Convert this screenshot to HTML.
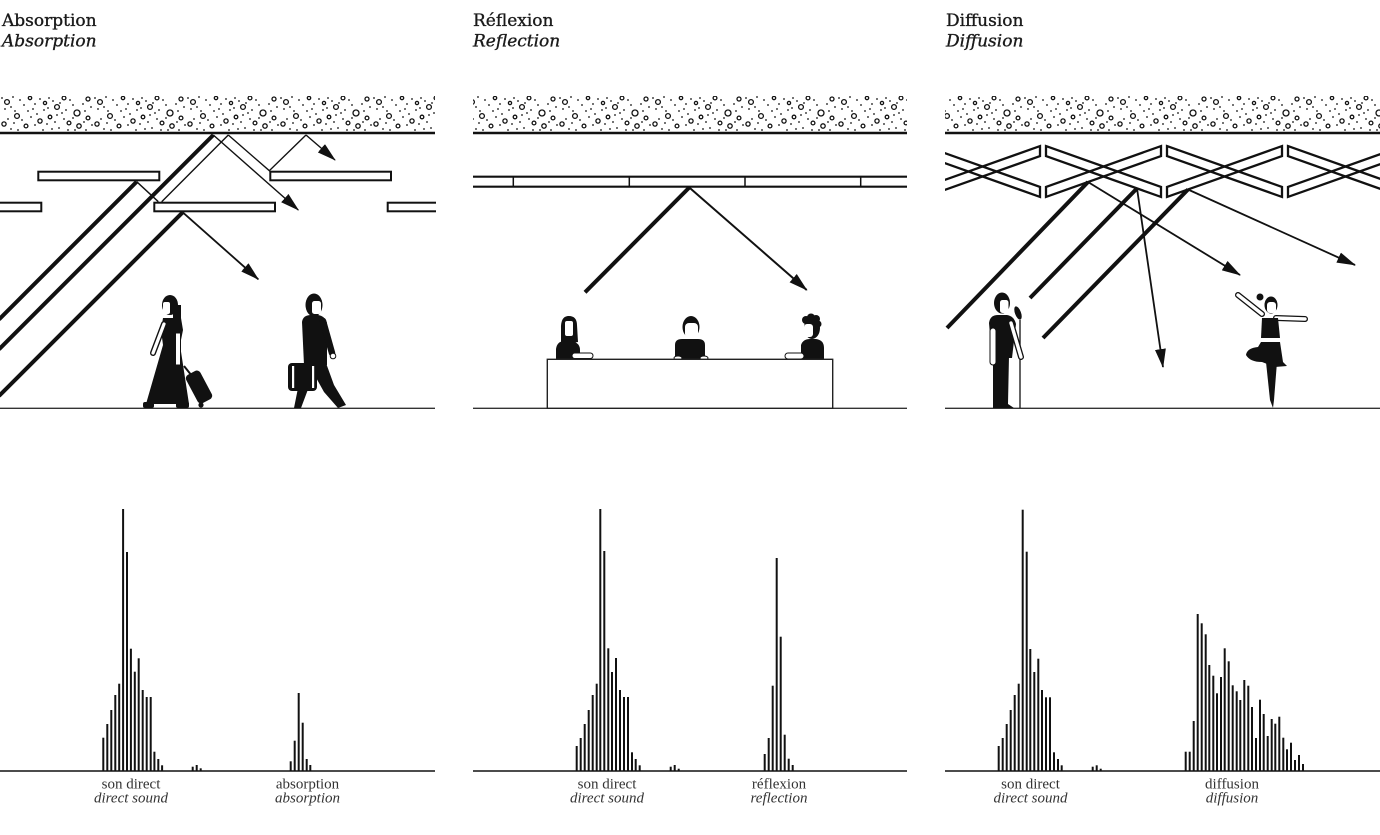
<!DOCTYPE html>
<html>
<head>
<meta charset="utf-8">
<style>
html,body{margin:0;padding:0;background:#fff;}
body{width:1380px;height:835px;overflow:hidden;position:relative;}
svg{position:absolute;left:0;top:0;}
.t{font-family:"DejaVu Serif","Liberation Serif",serif;font-size:17px;fill:#1a1a1a;stroke:#1a1a1a;stroke-width:0.35px;}
.ti{font-family:"DejaVu Serif","Liberation Serif",serif;font-size:17px;font-style:italic;fill:#1a1a1a;stroke:#1a1a1a;stroke-width:0.35px;}
.l{font-family:"Liberation Serif",serif;font-size:15px;fill:#333;}
.li{font-family:"Liberation Serif",serif;font-size:15px;font-style:italic;fill:#333;}
</style>
</head>
<body>
<svg width="1380" height="835" viewBox="0 0 1380 835" xmlns="http://www.w3.org/2000/svg">
<defs>
  <pattern id="tex" patternUnits="userSpaceOnUse" x="0" y="95" width="93" height="38">
    <g fill="none" stroke="#111" stroke-width="1.3">
      <circle cx="7" cy="7" r="2.4"/><circle cx="30" cy="3" r="1.7"/><circle cx="57" cy="12" r="2.4"/>
      <circle cx="64" cy="3" r="1.9"/><circle cx="77" cy="18" r="3"/><circle cx="88" cy="4" r="2"/>
      <circle cx="17" cy="21" r="2.4"/><circle cx="40" cy="26" r="2.1"/><circle cx="4" cy="29" r="2.1"/>
      <circle cx="26" cy="31" r="1.9"/><circle cx="79" cy="31" r="2.2"/><circle cx="50" cy="22" r="1.8"/>
      <circle cx="69" cy="28" r="1.9"/><circle cx="88" cy="23" r="1.9"/><circle cx="45" cy="8" r="1.6"/>
    </g>
    <g fill="#111">
      <circle cx="2" cy="3" r=".9"/><circle cx="13" cy="2" r=".9"/><circle cx="20" cy="5" r=".9"/><circle cx="24" cy="10" r=".9"/>
      <circle cx="35" cy="9" r=".9"/><circle cx="40" cy="4" r=".9"/><circle cx="49" cy="3" r=".9"/><circle cx="53" cy="6" r=".9"/>
      <circle cx="60" cy="8" r=".9"/><circle cx="70" cy="5" r=".9"/><circle cx="73" cy="10" r=".9"/><circle cx="83" cy="9" r=".9"/>
      <circle cx="91" cy="12" r=".9"/><circle cx="5" cy="14" r=".9"/><circle cx="11" cy="12" r=".9"/><circle cx="15" cy="16" r=".9"/>
      <circle cx="28" cy="16" r=".9"/><circle cx="33" cy="14" r=".9"/><circle cx="37" cy="19" r=".9"/><circle cx="44" cy="15" r=".9"/>
      <circle cx="48" cy="13" r=".9"/><circle cx="62" cy="18" r=".9"/><circle cx="66" cy="15" r=".9"/><circle cx="85" cy="16" r=".9"/>
      <circle cx="8" cy="24" r=".9"/><circle cx="22" cy="25" r=".9"/><circle cx="31" cy="22" r=".9"/><circle cx="35" cy="30" r=".9"/>
      <circle cx="47" cy="29" r=".9"/><circle cx="55" cy="27" r=".9"/><circle cx="59" cy="33" r=".9"/><circle cx="64" cy="24" r=".9"/>
      <circle cx="73" cy="23" r=".9"/><circle cx="84" cy="27" r=".9"/><circle cx="92" cy="30" r=".9"/><circle cx="11" cy="34" r=".9"/>
      <circle cx="18" cy="35" r=".9"/><circle cx="43" cy="35" r=".9"/><circle cx="52" cy="34" r=".9"/><circle cx="68" cy="35" r=".9"/>
      <circle cx="75" cy="35" r=".9"/><circle cx="86" cy="35" r=".9"/><circle cx="14" cy="28" r=".9"/><circle cx="57" cy="20" r=".9"/>
    </g>
  </pattern>
  <marker id="ah" viewBox="0 0 19 11" refX="18" refY="5.5" markerWidth="19" markerHeight="11" orient="auto" markerUnits="userSpaceOnUse">
    <path d="M0,0 L19,5.5 L0,11 Z" fill="#111"/>
  </marker>
  <clipPath id="clipR"><rect x="945" y="0" width="435" height="835"/></clipPath>
  <clipPath id="clipL"><rect x="0" y="0" width="436" height="835"/></clipPath>
</defs>

<!-- Titles -->
<text class="t" x="2" y="26">Absorption</text>
<text class="ti" x="2" y="46.5">Absorption</text>
<text class="t" x="473" y="26">Réflexion</text>
<text class="ti" x="473" y="46.5">Reflection</text>
<text class="t" x="946" y="26">Diffusion</text>
<text class="ti" x="946" y="46.5">Diffusion</text>

<!-- Ceiling textures -->
<rect x="0" y="96" width="435" height="35" fill="url(#tex)"/>
<rect x="473" y="96" width="434" height="35" fill="url(#tex)"/>
<rect x="945" y="96" width="435" height="35" fill="url(#tex)"/>
<g stroke="#111" stroke-width="2.5">
  <line x1="0" y1="133" x2="435" y2="133"/>
  <line x1="473" y1="133" x2="907" y2="133"/>
  <line x1="945" y1="133" x2="1380" y2="133"/>
</g>

<!-- Ground lines -->
<g stroke="#333" stroke-width="1.3">
  <line x1="0" y1="408.3" x2="435" y2="408.3"/>
  <line x1="473" y1="408.3" x2="907" y2="408.3"/>
  <line x1="945" y1="408.3" x2="1380" y2="408.3"/>
</g>

<!-- ================= LEFT PANEL ================= -->
<g clip-path="url(#clipL)">
  <g stroke="#111" stroke-width="4" stroke-linecap="butt">
    <line x1="136.7" y1="181.7" x2="-1" y2="319.4"/>
    <line x1="213.3" y1="135" x2="-1" y2="349.3"/>
    <line x1="182.7" y1="212.3" x2="-1" y2="396"/>
  </g>
  <g stroke="#111" stroke-width="1.4" fill="none">
    <line x1="228.3" y1="135" x2="161.7" y2="201.7"/>
    <line x1="136.7" y1="181.7" x2="158.3" y2="201.7"/>
    <polyline points="228.3,135 269.3,170.7 306,135"/>
    <line x1="306" y1="135" x2="335" y2="160" marker-end="url(#ah)"/>
    <line x1="213.3" y1="135" x2="298.3" y2="210" marker-end="url(#ah)"/>
  </g>
  <line x1="182.7" y1="212.3" x2="258.3" y2="279.3" stroke="#111" stroke-width="1.8" marker-end="url(#ah)"/>
  <g fill="#fff" stroke="#111" stroke-width="2">
    <rect x="38.3" y="171.7" width="121" height="8.6"/>
    <rect x="270.3" y="171.7" width="120.7" height="8.6"/>
    <rect x="-3" y="202.7" width="44.3" height="8.6"/>
    <rect x="154.3" y="202.7" width="120.7" height="8.6"/>
    <rect x="387.7" y="202.7" width="50" height="8.6"/>
  </g>
</g>

<!-- woman with suitcase -->
<g fill="#111">
  <line x1="184" y1="366" x2="192" y2="376" stroke="#111" stroke-width="2"/>
  <rect x="191" y="371" width="16" height="32" rx="4" transform="rotate(-28 199 387)"/>
  <circle cx="201" cy="405" r="2.6"/>
  <ellipse cx="170" cy="305" rx="8" ry="10"/>
  <rect x="173" y="305" width="8" height="18"/>
  <rect x="163" y="302" width="7" height="12" rx="2" fill="#fff"/>
  <path d="M163,318 L181,318 L183,330 L180,345 L189,404 L146,404 L163,345 L161,330 Z"/>
  <rect x="143" y="402" width="11" height="6" rx="2"/>
  <rect x="176" y="402" width="13" height="6" rx="2"/>
  <line x1="164" y1="324" x2="153" y2="353" stroke="#111" stroke-width="6" stroke-linecap="round"/>
  <line x1="164" y1="324" x2="153" y2="353" stroke="#fff" stroke-width="3.2" stroke-linecap="round"/>
  <rect x="175.5" y="333" width="5" height="32" fill="#fff" stroke="#111" stroke-width="1"/>
</g>

<!-- man with briefcase -->
<g fill="#111">
  <ellipse cx="314" cy="305" rx="8.5" ry="11.5"/>
  <rect x="312" y="301" width="9" height="13" rx="2.5" fill="#fff"/>
  <path d="M302,322 Q303,315 311,315 L318,315 Q325,316 327,323 L327,365 L304,365 Z"/>
  <line x1="323" y1="321" x2="332" y2="353" stroke="#111" stroke-width="6.5" stroke-linecap="round"/>
  <circle cx="333" cy="356" r="2.8" fill="#fff" stroke="#111" stroke-width="1"/>
  <path d="M305,363 L326,363 L334,385 L346,405 L338,408 L324,392 L314,374 L307,392 L301,408 L294,408 L298,388 Z"/>
  <rect x="288" y="363" width="29" height="28" rx="4"/>
  <rect x="292" y="366" width="2.2" height="22" fill="#fff"/>
  <rect x="312" y="366" width="2.2" height="22" fill="#fff"/>
</g>

<!-- ================= MIDDLE PANEL ================= -->
<g stroke="#111" stroke-width="2.2">
  <line x1="473" y1="176.7" x2="907" y2="176.7"/>
  <line x1="473" y1="186.7" x2="907" y2="186.7"/>
</g>
<g stroke="#111" stroke-width="1.5">
  <line x1="513.3" y1="176.7" x2="513.3" y2="186.7"/>
  <line x1="629.3" y1="176.7" x2="629.3" y2="186.7"/>
  <line x1="745" y1="176.7" x2="745" y2="186.7"/>
  <line x1="860.7" y1="176.7" x2="860.7" y2="186.7"/>
</g>
<line x1="689.3" y1="187.5" x2="585" y2="292.3" stroke="#111" stroke-width="4"/>
<line x1="689.3" y1="187.5" x2="806.7" y2="290" stroke="#111" stroke-width="2" marker-end="url(#ah)"/>

<g fill="#111">
  <path d="M561,328 C561,319 564,316 569,316 C574,316 577,319 577,325 L578,342 L561,345 Z"/>
  <rect x="565" y="321" width="8" height="15" rx="2" fill="#fff"/>
  <path d="M556,359 L556,349 Q557,341 565,341 L572,341 Q580,343 580,350 L580,359 Z"/>
  <rect x="572" y="353" width="21" height="5.5" rx="2.7" fill="#fff" stroke="#111" stroke-width="1"/>

  <ellipse cx="691" cy="327" rx="8.5" ry="11"/>
  <rect x="685" y="323" width="13" height="15" rx="4" fill="#fff"/>
  <path d="M675,359 L675,345 Q675,339 682,339 L698,339 Q705,339 705,345 L705,359 Z"/>
  <ellipse cx="678" cy="358" rx="4" ry="2" fill="#fff" stroke="#111" stroke-width="1"/>
  <ellipse cx="704" cy="358" rx="4" ry="2" fill="#fff" stroke="#111" stroke-width="1"/>

  <circle cx="806" cy="320" r="4"/><circle cx="811" cy="317.5" r="4"/><circle cx="816" cy="319" r="4"/><circle cx="818" cy="324" r="3.5"/>
  <ellipse cx="812" cy="328" rx="8" ry="11"/>
  <rect x="804" y="324" width="9" height="13" rx="3" fill="#fff"/>
  <path d="M801,359 L801,345 Q803,339 810,339 L816,339 Q824,340 824,348 L824,359 Z"/>
  <rect x="785" y="353" width="19" height="6" rx="3" fill="#fff" stroke="#111" stroke-width="1"/>
</g>
<rect x="547.3" y="359.3" width="285.4" height="49" fill="#fff" stroke="#222" stroke-width="1.4"/>

<!-- ================= RIGHT PANEL ================= -->
<g clip-path="url(#clipR)">
  <g fill="none" stroke="#111" stroke-width="2.3">
    <polygon points="925,146.07 1040,186.93 1040,196.93 925,156.07"/>
    <polygon points="1046,186.93 1161,146.07 1161,156.07 1046,196.93"/>
    <polygon points="1167,146.07 1282,186.93 1282,196.93 1167,156.07"/>
    <polygon points="1288,186.93 1403,146.07 1403,156.07 1288,196.93"/>
    <polygon points="925,186.93 1040,146.07 1040,156.07 925,196.93"/>
    <polygon points="1046,146.07 1161,186.93 1161,196.93 1046,156.07"/>
    <polygon points="1167,186.93 1282,146.07 1282,156.07 1167,196.93"/>
    <polygon points="1288,146.07 1403,186.93 1403,196.93 1288,156.07"/>
  </g>
  <g stroke="#111" stroke-width="4">
    <line x1="1088" y1="182" x2="947" y2="328"/>
    <line x1="1137" y1="188.4" x2="1030" y2="298"/>
    <line x1="1188" y1="189.5" x2="1043" y2="338"/>
  </g>
  <g stroke="#111" stroke-width="1.8">
    <line x1="1088" y1="182" x2="1240" y2="275" marker-end="url(#ah)"/>
    <line x1="1188" y1="189.5" x2="1355" y2="265" marker-end="url(#ah)"/>
    <line x1="1137" y1="188.4" x2="1163" y2="367" marker-end="url(#ah)"/>
  </g>
</g>

<!-- singer -->
<g fill="#111">
  <line x1="1020" y1="320" x2="1020" y2="408" stroke="#111" stroke-width="1.3"/>
  <ellipse cx="1018" cy="313" rx="3" ry="7" transform="rotate(-20 1018 313)"/>
  <ellipse cx="1002" cy="303" rx="8" ry="10.5"/>
  <rect x="1000" y="300" width="8.5" height="13" rx="2.5" fill="#fff"/>
  <path d="M989,323 Q990,315 998,315 L1007,315 Q1014,316 1016,324 L1012,358 L992,358 Z"/>
  <path d="M993,356 L1009,356 L1008,404 L1014,408 L993,408 Z"/>
  <rect x="990" y="328" width="6" height="37" rx="3" fill="#fff" stroke="#111" stroke-width="1"/>
  <line x1="1011" y1="323" x2="1021" y2="357" stroke="#111" stroke-width="6" stroke-linecap="round"/>
  <line x1="1011" y1="323" x2="1021" y2="357" stroke="#fff" stroke-width="3.4" stroke-linecap="round"/>
</g>

<!-- dancer -->
<g fill="#111">
  <line x1="1262" y1="314" x2="1238" y2="295" stroke="#111" stroke-width="6" stroke-linecap="round"/>
  <line x1="1262" y1="314" x2="1238" y2="295" stroke="#fff" stroke-width="3.4" stroke-linecap="round"/>
  <line x1="1276" y1="318" x2="1305" y2="319" stroke="#111" stroke-width="6" stroke-linecap="round"/>
  <line x1="1276" y1="318" x2="1305" y2="319" stroke="#fff" stroke-width="3.4" stroke-linecap="round"/>
  <circle cx="1260" cy="297" r="3.5"/>
  <ellipse cx="1271" cy="305" rx="6.5" ry="8.5"/>
  <rect x="1267" y="302" width="9" height="11" rx="3" fill="#fff"/>
  <path d="M1262,318 L1278,318 L1280,338 L1261,338 Z"/>
  <path d="M1261,342 L1280,342 L1283,362 L1287,366 L1275,367 L1262,362 Q1250,362 1246,355 Q1247,348 1258,347 Z"/>
  <path d="M1266,362 L1277,362 L1274,400 L1273,408 L1270,400 Z"/>
</g>

<!-- ================= HISTOGRAMS ================= -->
<g stroke="#111" stroke-width="1.4">
  <line x1="0" y1="771" x2="435" y2="771"/>
  <line x1="473" y1="771" x2="907" y2="771"/>
  <line x1="945" y1="771" x2="1380" y2="771"/>
</g>
<g fill="#111">
  <rect x="102.3" y="737.7" width="2" height="33.3"/><rect x="106.3" y="724" width="2" height="47"/>
  <rect x="110.3" y="710" width="2" height="61"/><rect x="114.3" y="695" width="2" height="76"/>
  <rect x="118.2" y="683.7" width="2" height="87.3"/><rect x="122.1" y="509" width="2" height="262"/>
  <rect x="126" y="552" width="2" height="219"/><rect x="129.9" y="648.7" width="2" height="122.3"/>
  <rect x="133.8" y="671.7" width="2" height="99.3"/><rect x="137.7" y="658.3" width="2" height="112.7"/>
  <rect x="141.7" y="690" width="2" height="81"/><rect x="145.7" y="697" width="2" height="74"/>
  <rect x="149.7" y="697" width="2" height="74"/><rect x="153.4" y="751.7" width="2" height="19.3"/>
  <rect x="157.3" y="759" width="2" height="12"/><rect x="161.1" y="765.3" width="2" height="5.7"/>
  <rect x="191.7" y="766.7" width="2" height="4.3"/><rect x="195.7" y="765" width="2" height="6"/><rect x="199.7" y="768.3" width="2" height="2.7"/>
  <rect x="289.7" y="761.3" width="2" height="9.7"/><rect x="293.7" y="740.7" width="2" height="30.3"/>
  <rect x="297.7" y="693" width="2" height="78"/><rect x="301.7" y="722.7" width="2" height="48.3"/>
  <rect x="305.7" y="759" width="2" height="12"/><rect x="309.3" y="765" width="2" height="6"/>

  <rect x="575.7" y="746" width="2" height="25"/><rect x="579.7" y="738" width="2" height="33"/>
  <rect x="583.7" y="724" width="2" height="47"/><rect x="587.7" y="710" width="2" height="61"/>
  <rect x="591.7" y="695" width="2" height="76"/><rect x="595.7" y="683.7" width="2" height="87.3"/>
  <rect x="599.3" y="509" width="2" height="262"/><rect x="603.3" y="551" width="2" height="220"/>
  <rect x="607.3" y="648.3" width="2" height="122.7"/><rect x="611" y="672" width="2" height="99"/>
  <rect x="615" y="658" width="2" height="113"/><rect x="619" y="690" width="2" height="81"/>
  <rect x="623" y="697" width="2" height="74"/><rect x="627" y="697" width="2" height="74"/>
  <rect x="631" y="752.3" width="2" height="18.7"/><rect x="634.7" y="759" width="2" height="12"/>
  <rect x="638.7" y="765.3" width="2" height="5.7"/>
  <rect x="669.7" y="766.7" width="2" height="4.3"/><rect x="673.7" y="765" width="2" height="6"/><rect x="677.7" y="768.7" width="2" height="2.3"/>
  <rect x="763.7" y="754" width="2" height="17"/><rect x="767.7" y="738" width="2" height="33"/>
  <rect x="771.7" y="685.7" width="2" height="85.3"/><rect x="775.7" y="558" width="2" height="213"/>
  <rect x="779.7" y="636.7" width="2" height="134.3"/><rect x="783.7" y="734.7" width="2" height="36.3"/>
  <rect x="787.7" y="758.7" width="2" height="12.3"/><rect x="791.7" y="765" width="2" height="6"/>

  <rect x="997.7" y="746" width="2" height="25"/><rect x="1001.7" y="738" width="2" height="33"/>
  <rect x="1005.7" y="724" width="2" height="47"/><rect x="1009.7" y="710" width="2" height="61"/>
  <rect x="1013.7" y="695" width="2" height="76"/><rect x="1017.7" y="683.7" width="2" height="87.3"/>
  <rect x="1021.7" y="509.7" width="2" height="261.3"/><rect x="1025.7" y="551.7" width="2" height="219.3"/>
  <rect x="1029.3" y="649" width="2" height="122"/><rect x="1033.3" y="672" width="2" height="99"/>
  <rect x="1037.3" y="658.7" width="2" height="112.3"/><rect x="1041" y="690" width="2" height="81"/>
  <rect x="1045" y="697.3" width="2" height="73.7"/><rect x="1049" y="697.3" width="2" height="73.7"/>
  <rect x="1053" y="752.3" width="2" height="18.7"/><rect x="1057" y="759" width="2" height="12"/>
  <rect x="1060.7" y="765.3" width="2" height="5.7"/>
  <rect x="1091.7" y="766.7" width="2" height="4.3"/><rect x="1095.7" y="765.3" width="2" height="5.7"/><rect x="1099.7" y="768.7" width="2" height="2.3"/>
  <rect x="1184.7" y="751.7" width="2" height="19.3"/><rect x="1188.7" y="751.7" width="2" height="19.3"/>
  <rect x="1192.7" y="721" width="2" height="50"/><rect x="1196.7" y="614" width="2" height="157"/>
  <rect x="1200.7" y="623.3" width="2" height="147.7"/><rect x="1204.7" y="634.3" width="2" height="136.7"/>
  <rect x="1208.3" y="665" width="2" height="106"/><rect x="1212.3" y="675.7" width="2" height="95.3"/>
  <rect x="1216" y="693.3" width="2" height="77.7"/><rect x="1220" y="677" width="2" height="94"/>
  <rect x="1223.7" y="648.3" width="2" height="122.7"/><rect x="1227.7" y="661.3" width="2" height="109.7"/>
  <rect x="1231.7" y="685.3" width="2" height="85.7"/><rect x="1235.7" y="691.3" width="2" height="79.7"/>
  <rect x="1239.3" y="700" width="2" height="71"/><rect x="1243.3" y="680" width="2" height="91"/>
  <rect x="1247.3" y="685.7" width="2" height="85.3"/><rect x="1251" y="707" width="2" height="64"/>
  <rect x="1255" y="738" width="2" height="33"/><rect x="1259" y="699.7" width="2" height="71.3"/>
  <rect x="1262.7" y="714" width="2" height="57"/><rect x="1266.7" y="736" width="2" height="35"/>
  <rect x="1270.7" y="719" width="2" height="52"/><rect x="1274.3" y="723.7" width="2" height="47.3"/>
  <rect x="1278.3" y="716.7" width="2" height="54.3"/><rect x="1282.3" y="737.7" width="2" height="33.3"/>
  <rect x="1286" y="749.3" width="2" height="21.7"/><rect x="1290" y="742.7" width="2" height="28.3"/>
  <rect x="1294" y="760" width="2" height="11"/><rect x="1298" y="755" width="2" height="16"/>
  <rect x="1302" y="764" width="2" height="7"/>
</g>

<g text-anchor="middle">
  <text class="l" x="131" y="788.5">son direct</text>
  <text class="li" x="131" y="802.5">direct sound</text>
  <text class="l" x="307.5" y="788.5">absorption</text>
  <text class="li" x="307.5" y="802.5">absorption</text>
  <text class="l" x="607" y="788.5">son direct</text>
  <text class="li" x="607" y="802.5">direct sound</text>
  <text class="l" x="779" y="788.5">réflexion</text>
  <text class="li" x="779" y="802.5">reflection</text>
  <text class="l" x="1030.5" y="788.5">son direct</text>
  <text class="li" x="1030.5" y="802.5">direct sound</text>
  <text class="l" x="1232" y="788.5">diffusion</text>
  <text class="li" x="1232" y="802.5">diffusion</text>
</g>
</svg>
</body>
</html>
